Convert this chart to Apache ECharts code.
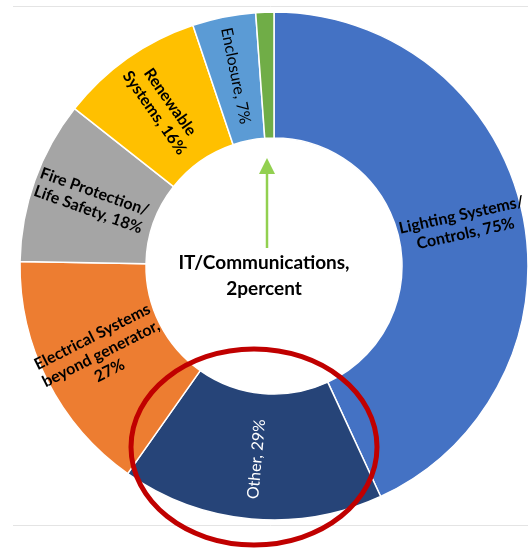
<!DOCTYPE html>
<html>
<head>
<meta charset="utf-8">
<script src="https://cdn.jsdelivr.net/npm/echarts@6/dist/echarts.min.js"></script>
<style>
  html, body { margin:0; padding:0; background:#fff; }
  #chart { width:528px; height:548px; }
</style>
</head>
<body>
<div id="chart"></div>
<script>
// categories, in clockwise order from 12 o'clock
var categories = ['Lighting Systems/\nControls', 'Other', 'Electrical Systems\nbeyond generator,', 'Fire Protection/\nLife Safety', 'Renewable\nSystems', 'Enclosure', 'IT/Communications,'];
var values = [75, 29, 27, 18, 16, 7, 2];
var colors = ['#4472C4', '#264478', '#ED7D31', '#A5A5A5', '#FFC000', '#5B9BD5', '#70AD47'];
// label text after the name (the chart writes them slightly differently)
var valueTexts = [', 75%', ', 29%', '\n27%', ', 18%', ', 16%', ', 7%', '\n2percent'];

var chart = echarts.init(document.getElementById('chart'));

var data = [];
for (var i = 0; i < categories.length; i++) {
    var lbl = {};
    if (i == 1) { lbl.color = '#fff'; lbl.fontWeight = 'normal'; }
    if (i == 5) { lbl.fontWeight = 'normal'; }
    if (i == 6) { lbl.show = false; }
    data.push({
        name: categories[i],
        value: values[i],
        itemStyle: { color: colors[i] },
        label: lbl
    });
}

chart.setOption({
    animation: false,
    series: [{
        type: 'pie',
        center: [274, 266],
        radius: [128, 254],
        startAngle: 90,
        clockwise: true,
        avoidLabelOverlap: false,
        itemStyle: { borderColor: '#fff', borderWidth: 1.5 },
        label: {
            show: true,
            position: 'inside',
            rotate: 'radial',
            fontFamily: 'Lato',
            fontSize: 16,
            fontWeight: 'bold',
            lineHeight: 19,
            color: '#000',
            align: 'center',
            formatter: function (p) {
                return p.name + valueTexts[p.dataIndex];
            }
        },
        labelLine: { show: false },
        data: data
    }],
    graphic: [
        // frame lines
        { type: 'line', shape: { x1: 13, y1: 6.5, x2: 528, y2: 6.5 }, style: { stroke: '#e4e4e4', lineWidth: 1 } },
        { type: 'line', shape: { x1: 13, y1: 525.5, x2: 528, y2: 525.5 }, style: { stroke: '#e4e4e4', lineWidth: 1 } },
        // arrow to the thin IT slice
        { type: 'line', shape: { x1: 267, y1: 248, x2: 267, y2: 170 }, style: { stroke: '#92D050', lineWidth: 2.5 } },
        { type: 'polygon', shape: { points: [[267, 158], [259, 174], [275, 174]] }, style: { fill: '#92D050' } },
        {
            type: 'text',
            x: 264, y: 276,
            style: {
                text: categories[6] + valueTexts[6],
                font: 'bold 19px Lato',
                lineHeight: 26,
                fill: '#000',
                align: 'center',
                verticalAlign: 'middle'
            }
        },
        // red highlight ring
        { type: 'ellipse', shape: { cx: 254, cy: 447, rx: 123, ry: 98 }, style: { fill: 'none', stroke: '#C00000', lineWidth: 5 }, z: 10 }
    ]
});
</script>
</body>
</html>
